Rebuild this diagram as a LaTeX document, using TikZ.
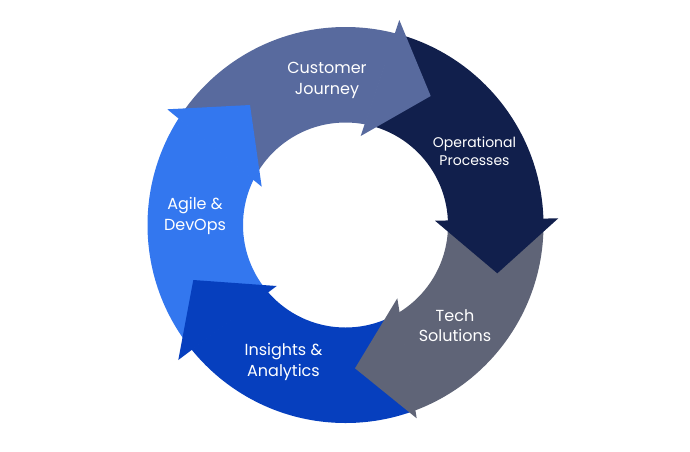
\documentclass[tikz,border=0pt]{standalone}
\usepackage{fontspec}
\setmainfont{Poppins}
\usetikzlibrary{calc}
\definecolor{cjcol}{RGB}{88,106,158}
\definecolor{opcol}{RGB}{17,31,76}
\definecolor{tscol}{RGB}{95,100,119}
\definecolor{iacol}{RGB}{6,63,190}
\definecolor{adcol}{RGB}{51,119,239}
\newcommand{\arcbody}[7]{%
  \begin{scope}
    \coordinate (so) at ($(#2)!0.08!(#3)$);
    \coordinate (si) at ($(#4)!0.08!(#3)$);
    \coordinate (eo) at ($(#5)!0.01!(#6)$);
    \coordinate (ei) at ($(#7)!0.01!(#6)$);
    \clip ($(so)!-0.5!(si)$) -- ($(eo)!-0.5!(ei)$) -- ($(eo)!1.35!(ei)$) -- ($(so)!1.35!(si)$) -- cycle;
    \fill[#1, even odd rule] (C) circle[radius=198pt] (C) circle[radius=102.5pt];
  \end{scope}}
\tikzset{
  lbl/.style={text=white, align=center, inner sep=0pt, font=\fontsize{16}{20.5}\selectfont},
  lblsmall/.style={lbl, font=\fontsize{14}{17.7}\selectfont}
}
\begin{document}
\begin{tikzpicture}[x=1pt,y=-1pt]
  \fill[white] (0,0) rectangle (690,451);
  \useasboundingbox (0,0) rectangle (690,451);
  \coordinate (C) at (345.5,225);
  % heads: outer barb, tip, inner barb
  \coordinate (Bo1) at (399.3,20);   \coordinate (T1) at (430.7,96);   \coordinate (Bi1) at (360.7,136);
  \coordinate (Bo2) at (558.3,218.3);\coordinate (T2) at (497.3,273.3);\coordinate (Bi2) at (435,220.7);
  \coordinate (Bo3) at (416.7,418.3);\coordinate (T3) at (355,368.3);  \coordinate (Bi3) at (397.3,298.3);
  \coordinate (Bo4) at (178.3,360);  \coordinate (T4) at (193.3,280);  \coordinate (Bi4) at (276.7,286);
  \coordinate (Bo5) at (167.3,109.3);\coordinate (T5) at (250,105);   \coordinate (Bi5) at (261.7,186.7);
  % bodies
  \arcbody{cjcol}{Bo5}{T5}{Bi5}{Bo1}{T1}{Bi1}
  \arcbody{opcol}{Bo1}{T1}{Bi1}{Bo2}{T2}{Bi2}
  \arcbody{tscol}{Bo2}{T2}{Bi2}{Bo3}{T3}{Bi3}
  \arcbody{iacol}{Bo3}{T3}{Bi3}{Bo4}{T4}{Bi4}
  \arcbody{adcol}{Bo4}{T4}{Bi4}{Bo5}{T5}{Bi5}
  % heads
  \fill[cjcol] (Bo1) -- (T1) -- (Bi1) -- cycle;
  \fill[opcol] (Bo2) -- (T2) -- (Bi2) -- cycle;
  \fill[tscol] (Bo3) -- (T3) -- (Bi3) -- cycle;
  \fill[iacol] (Bo4) -- (T4) -- (Bi4) -- cycle;
  \fill[adcol] (Bo5) -- (T5) -- (Bi5) -- cycle;
  % labels
  \node[lbl] (cj) at (327,80.5) {Customer\\Journey};
  \node[lblsmall] (op) at (474.5,151.5) {Operational\\Processes};
  \node[lbl] (ts) at (455,325.5) {Tech\\Solutions};
  \node[lbl] (ia) at (283.5,362) {Insights \&\\Analytics};
  \node[lbl] (ad) at (195,216) {Agile \&\\DevOps};
\end{tikzpicture}
\end{document}
